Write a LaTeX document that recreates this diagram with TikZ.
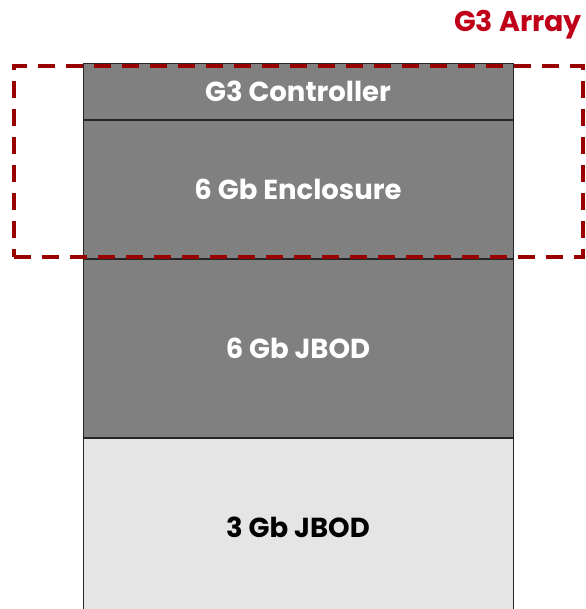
\documentclass[tikz,border=0pt]{standalone}
\usepackage{fontspec}
\setmainfont{Poppins}
\usepackage{tikz}
\usetikzlibrary{positioning, calc}
\definecolor{arrayred}{HTML}{990000}
\definecolor{labelred}{HTML}{C00018}
\definecolor{darkshelf}{HTML}{808080}
\definecolor{lightshelf}{HTML}{E5E5E5}
\tikzset{
    shelf/.style={draw=black!85, line width=1pt, minimum width=430pt, inner sep=0pt, font=\fontsize{27.5}{30}\selectfont\bfseries},
    newshelf/.style={shelf, fill=darkshelf, text=white},
    oldshelf/.style={shelf, fill=lightshelf, text=black},
    array box/.style={draw=arrayred, line width=4pt, dash pattern=on 17pt off 11pt, minimum width=569pt, minimum height=191pt, inner sep=0pt},
    array label/.style={text=labelred, font=\fontsize{28.5}{30}\selectfont\bfseries, inner sep=0pt}
}

\begin{document}
\begin{tikzpicture}[x=1pt,y=-1pt]
    \useasboundingbox (0,0) rectangle (585,609);

    % --- Shelves ---
    \node (ctrl) [newshelf, minimum height=56pt, anchor=north] at (298,63) {G3 Controller};
    \node (encl) [newshelf, minimum height=138pt, below=0pt of ctrl] {6 Gb Enclosure};
    \node (jbod6) [newshelf, minimum height=178pt, below=0pt of encl] {6 Gb JBOD};
    \node (jbod3) [oldshelf, minimum height=178pt, below=0pt of jbod6] {3 Gb JBOD};

    % --- Array outline ---
    \node (array) [array box, anchor=north west] at (12,64) {};
    \node[array label, anchor=base east] at ($(array.north east)+(-3,-32)$) {G3 Array};
\end{tikzpicture}
\end{document}
